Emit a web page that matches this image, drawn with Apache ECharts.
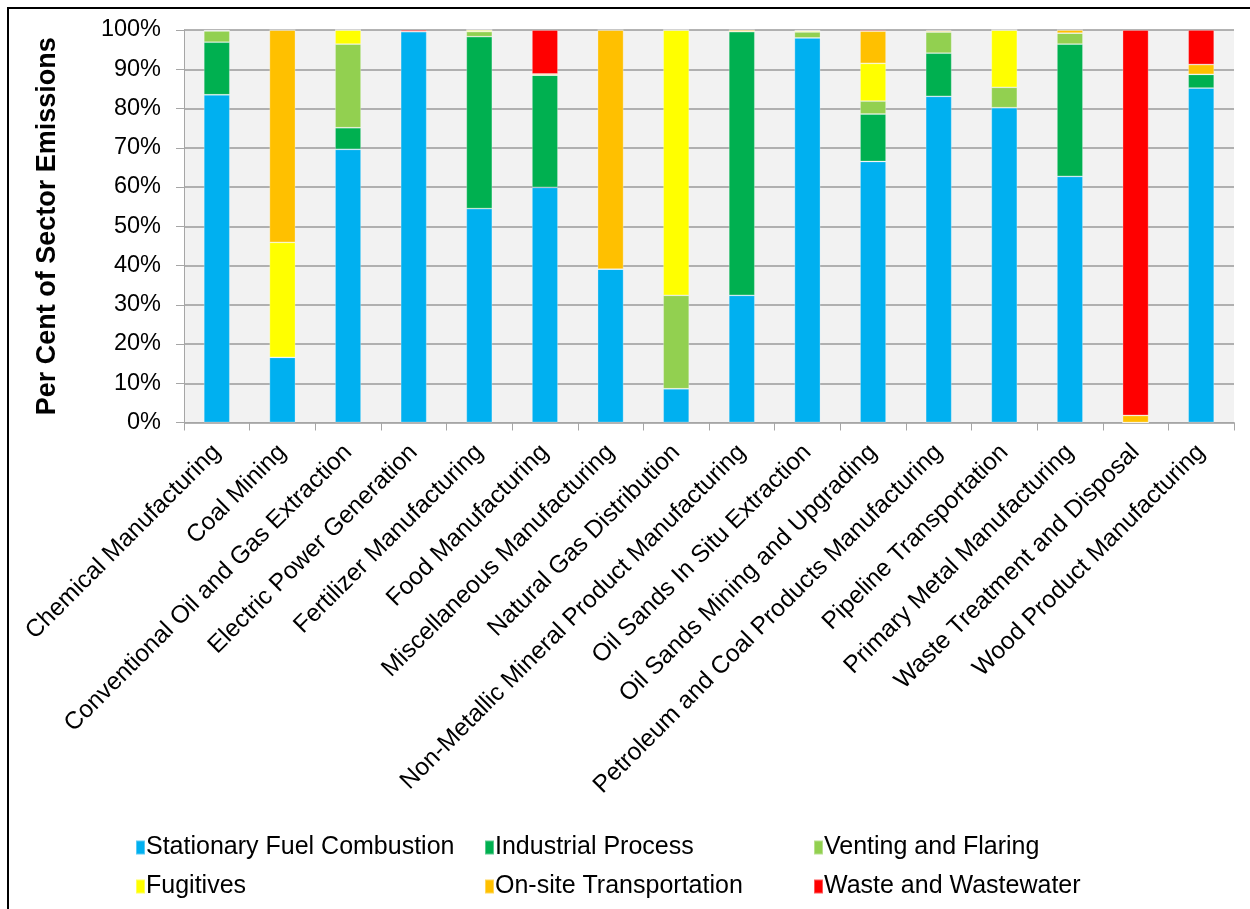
<!DOCTYPE html>
<html>
<head>
<meta charset="utf-8">
<script src="https://cdn.jsdelivr.net/npm/echarts@6/dist/echarts.min.js"></script>
<style>
  html, body { margin: 0; padding: 0; background: #fff; }
  #chart { width: 1250px; height: 909px; position: absolute; left: 0; top: 0; }
  #frame { position: absolute; left: 7px; top: 7px; width: 1300px; height: 1000px;
           border-left: 2px solid #000; border-top: 2px solid #000; pointer-events: none; }
</style>
</head>
<body>
<div id="chart"></div>
<div id="frame"></div>
<script>
const categories = [
  'Chemical Manufacturing', 'Coal Mining', 'Conventional Oil and Gas Extraction',
  'Electric Power Generation', 'Fertilizer Manufacturing', 'Food Manufacturing',
  'Miscellaneous Manufacturing', 'Natural Gas Distribution',
  'Non-Metallic Mineral Product Manufacturing', 'Oil Sands In Situ Extraction',
  'Oil Sands Mining and Upgrading', 'Petroleum and Coal Products Manufacturing',
  'Pipeline Transportation', 'Primary Metal Manufacturing',
  'Waste Treatment and Disposal', 'Wood Product Manufacturing'
];
const seriesNames = [
  'Stationary Fuel Combustion', 'Industrial Process', 'Venting and Flaring',
  'Fugitives', 'On-site Transportation', 'Waste and Wastewater'
];
const stationaryFuel = [83.5, 16.6, 69.6, 99.6, 54.5, 59.9, 39.1, 8.6, 32.4, 98.0, 66.5, 83.1, 80.2, 62.7, 0, 85.2];
const industrialProcess = [13.4, 0, 5.5, 0, 43.8, 28.6, 0, 0, 67.2, 0, 12.1, 11.0, 0, 33.7, 0, 3.5];
const ventingFlaring = [2.9, 0, 21.3, 0, 1.3, 0, 0, 23.8, 0, 1.5, 3.3, 5.4, 5.2, 2.8, 0, 0];
const fugitives = [0, 29.3, 3.6, 0, 0.4, 0, 0, 67.6, 0, 0.3, 9.6, 0, 14.6, 0, 0, 0];
const onsiteTransport = [0, 54.1, 0, 0, 0, 0.3, 60.9, 0, 0.4, 0, 8.2, 0.3, 0, 0.8, 1.8, 2.5];
const wasteWastewater = [0.2, 0, 0, 0.4, 0, 11.2, 0, 0, 0, 0.2, 0.3, 0.2, 0, 0, 98.2, 8.8];
const yTicks = [0, 10, 20, 30, 40, 50, 60, 70, 80, 90, 100];

const seriesData = [stationaryFuel, industrialProcess, ventingFlaring, fugitives, onsiteTransport, wasteWastewater];
const colors = ['#00B0F0', '#00B050', '#92D050', '#FFFF00', '#FFC000', '#FF0000'];
const font = '"Liberation Sans", Arial, sans-serif';

const legendPos = [
  {left: 135, top: 835}, {left: 484, top: 835}, {left: 813, top: 835},
  {left: 135, top: 874}, {left: 484, top: 874}, {left: 813, top: 874}
];

const chart = echarts.init(document.getElementById('chart'), null, {renderer: 'canvas'});
chart.setOption({
  animation: false,
  backgroundColor: '#fff',
  color: colors,
  grid: { left: 184, right: 16, top: 30, bottom: 486.5, show: true, backgroundColor: '#F2F2F2', borderWidth: 0 },
  legend: legendPos.map((p, i) => ({
    data: [seriesNames[i]],
    left: p.left, top: p.top,
    itemWidth: 9, itemHeight: 14, itemGap: 0,
    icon: 'rect',
    textStyle: { fontFamily: font, fontSize: 25, color: '#000', padding: [0, 0, 0, -4] },
    padding: 0
  })),
  xAxis: {
    type: 'category',
    data: categories,
    axisLine: { show: true, lineStyle: { color: '#A6A6A6', width: 1 } },
    axisTick: { show: true, length: 8, alignWithLabel: false, lineStyle: { color: '#A6A6A6' } },
    axisLabel: { rotate: 45, interval: 0, margin: 26, fontFamily: font, fontSize: 24.5, color: '#000' },
    splitLine: { show: false }
  },
  yAxis: {
    type: 'value',
    min: 0, max: 100, interval: 10,
    name: 'Per Cent of Sector Emissions',
    nameLocation: 'middle',
    nameGap: 123,
    nameTextStyle: { fontFamily: font, fontSize: 27, fontWeight: 'bold', color: '#000' },
    axisLine: { show: true, lineStyle: { color: '#A6A6A6', width: 1 } },
    axisTick: { show: true, length: 8, inside: false, lineStyle: { color: '#A6A6A6' } },
    axisLabel: {
      margin: 23, fontFamily: font, fontSize: 23.5, color: '#000',
      formatter: v => (yTicks.indexOf(v) >= 0 ? v + '%' : '')
    },
    splitLine: { show: true, lineStyle: { color: '#9A9A9A', width: 1.5 } }
  },
  series: seriesNames.map((name, i) => ({
    name: name,
    type: 'bar',
    stack: 'total',
    barWidth: 26,
    data: seriesData[i],
    itemStyle: { color: colors[i], borderColor: 'rgba(255,255,255,0.35)', borderWidth: 0.8 }
  }))
});
</script>
</body>
</html>
